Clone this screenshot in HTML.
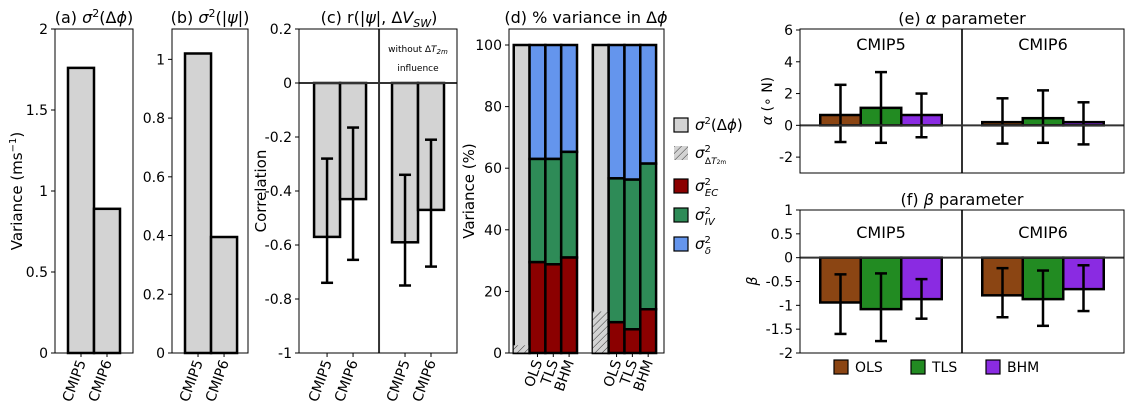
<!DOCTYPE html>
<html><head><meta charset="utf-8"><style>
html,body{margin:0;padding:0;background:#fff}
svg{display:block;font-family:"DejaVu Sans","Liberation Sans",sans-serif}
</style></head><body>
<svg id="fig" width="1131" height="413" viewBox="0 0 1131 413" xmlns="http://www.w3.org/2000/svg">
<defs><pattern id="hatch" patternUnits="userSpaceOnUse" width="5" height="5" patternTransform="rotate(45)"><rect width="5" height="5" fill="#d3d3d3"/><line x1="0" y1="0" x2="0" y2="5" stroke="#333" stroke-width="1"/></pattern></defs>
</svg>
<script>
const modelCats = ["CMIP5","CMIP6"];
const varPhi = [1.76, 0.89];
const varPsi = [1.02, 0.395];
const corrVals = [-0.57, -0.43, -0.59, -0.47];
const corrLo = [-0.74, -0.655, -0.75, -0.68];
const corrHi = [-0.28, -0.165, -0.34, -0.21];
const methodCats = ["OLS","TLS","BHM"];
const hatchVals = [2.5, 13.5];
const ecVals = [29.5, 28.8, 31.0, 10.0, 7.7, 14.2];
const ivVals = [33.5, 34.2, 34.3, 46.7, 48.6, 47.3];
const alphaVals = [0.65, 1.1, 0.65, 0.2, 0.45, 0.2];
const alphaLo = [-1.05, -1.1, -0.75, -1.15, -1.1, -1.2];
const alphaHi = [2.55, 3.35, 2.0, 1.7, 2.2, 1.45];
const betaVals = [-0.94, -1.08, -0.87, -0.79, -0.87, -0.66];
const betaLo = [-1.6, -1.75, -1.28, -1.25, -1.43, -1.12];
const betaHi = [-0.35, -0.33, -0.45, -0.22, -0.27, -0.16];
const ticksA = [0,0.5,1,1.5,2], ticksALab = ["0","0.5","1","1.5","2"];
const ticksB = [0,0.2,0.4,0.6,0.8,1], ticksBLab = ["0","0.2","0.4","0.6","0.8","1"];
const ticksC = [-1,-0.8,-0.6,-0.4,-0.2,0,0.2], ticksCLab = ["-1","-0.8","-0.6","-0.4","-0.2","0","0.2"];
const ticksD = [0,20,40,60,80,100], ticksDLab = ["0","20","40","60","80","100"];
const ticksE = [-2,0,2,4,6], ticksELab = ["-2","0","2","4","6"];
const ticksF = [-2,-1.5,-1,-0.5,0,0.5,1], ticksFLab = ["-2","-1.5","-1","-0.5","0","0.5","1"];
const methodColors = ["#8B4513","#228B22","#8A2BE2"];

const NS="http://www.w3.org/2000/svg";
const svg=document.getElementById('fig');
function el(tag,attrs,parent,text){const e=document.createElementNS(NS,tag);for(const k in attrs)e.setAttribute(k,attrs[k]);if(text!==undefined)e.textContent=text;(parent||svg).appendChild(e);return e;}
function scale(d0,d1,r0,r1){return v=>r0+(v-d0)/(d1-d0)*(r1-r0);}
function frame(x0,x1,y0,y1,name){const r=el('rect',{x:x0,y:y0,width:x1-x0,height:y1-y0,fill:'none',stroke:'#000','stroke-width':1});}
function yTicks(x0,ys,ticks,labs,name){const g=el('g',{});ticks.forEach((t,i)=>{el('line',{x1:x0-4,x2:x0,y1:ys(t),y2:ys(t),stroke:'#000'},g);el('text',{x:x0-7,y:ys(t)+5,'text-anchor':'end','font-size':14},g,labs[i]);});}
function xTicks(xs,y0,pos,labs,name){const g=el('g',{});pos.forEach((p,i)=>{const x=xs(p);el('line',{x1:x,x2:x,y1:y0,y2:y0+4,stroke:'#000'},g);el('text',{x:x+5,y:y0+9,'text-anchor':'end','font-size':14,transform:`rotate(-70 ${x+5} ${y0+9})`},g,labs[i]);});}
function title(x,y,html,name){const t=el('text',{x:x,y:y,'text-anchor':'middle','font-size':16});t.innerHTML=html;}
function ylabel(x,y,html,name,fs){const t=el('text',{x:x,y:y,'text-anchor':'middle','font-size':fs||15,transform:`rotate(-90 ${x} ${y})`});t.innerHTML=html;}
function bar(xs,ys,xc,w,v0,v1,fill,name){const a=ys(v0),b=ys(v1);const r=el('rect',{x:xs(xc-w/2),y:Math.min(a,b),width:xs(xc+w/2)-xs(xc-w/2),height:Math.abs(a-b),fill:fill,stroke:'#000','stroke-width':2.5});return r;}
function err(xs,ys,xc,lo,hi,name){const g=el('g',{stroke:'#000','stroke-width':2.5});const x=xs(xc);el('line',{x1:x,x2:x,y1:ys(lo),y2:ys(hi)},g);el('line',{x1:x-6,x2:x+6,y1:ys(lo),y2:ys(lo)},g);el('line',{x1:x-6,x2:x+6,y1:ys(hi),y2:ys(hi)},g);}
function hline(x0,x1,y,name){const l=el('line',{x1:x0,x2:x1,y1:y,y2:y,stroke:'#333','stroke-width':2});}
function vline(x,y0,y1,name){const l=el('line',{x1:x,x2:x,y1:y0,y2:y1,stroke:'#333','stroke-width':2});}

// Panel a
{const xs=scale(-0.5,2.5,55,133), ys=scale(0,2,353,29);
modelCats.forEach((c,i)=>bar(xs,ys,i+0.5,1,0,varPhi[i],'#d3d3d3','bar-a-'+c.toLowerCase()));
frame(55,133,29,353,'panel-a-axes');yTicks(55,ys,ticksA,ticksALab,'panel-a-y-ticks');
xTicks(xs,353,[0.5,1.5],modelCats,'panel-a-x-ticks');
title(94,23,'(a) <tspan font-style="italic">σ</tspan><tspan dy="-6" font-size="11">2</tspan><tspan dy="6">(Δ</tspan><tspan font-style="italic">ϕ</tspan>)','panel-a-title');
ylabel(22,191,'Variance (ms<tspan dy="-6" font-size="10">−1</tspan><tspan dy="6">)</tspan>','panel-a-y-title');}

// Panel b
{const xs=scale(-0.5,2.42,172,248), ys=scale(0,1.1,353,30);
modelCats.forEach((c,i)=>bar(xs,ys,i+0.5,1,0,varPsi[i],'#d3d3d3','bar-b-'+c.toLowerCase()));
frame(172,248,29,353,'panel-b-axes');yTicks(172,ys,ticksB,ticksBLab,'panel-b-y-ticks');
xTicks(xs,353,[0.5,1.5],modelCats,'panel-b-x-ticks');
title(210,23,'(b) <tspan font-style="italic">σ</tspan><tspan dy="-6" font-size="11">2</tspan><tspan dy="6">(|</tspan><tspan font-style="italic">ψ</tspan>|)','panel-b-title');}

// Panel c
{const xs=scale(-1.08,5.0,299,457), ys=scale(-1,0.2,353,29);
const pos=[0,1,3,4];
pos.forEach((p,i)=>bar(xs,ys,p,1,0,corrVals[i],'#d3d3d3','bar-c-'+i));
pos.forEach((p,i)=>err(xs,ys,p,corrLo[i],corrHi[i],'errorbar-c-'+i));
hline(299,457,ys(0),'panel-c-zero-line');vline(xs(2),29,353,'panel-c-divider');
frame(299,457,29,353,'panel-c-axes');yTicks(299,ys,ticksC,ticksCLab,'panel-c-y-ticks');
xTicks(xs,353,pos,[...modelCats,...modelCats],'panel-c-x-ticks');
title(379,23,'(c) r(|<tspan font-style="italic">ψ</tspan>|, Δ<tspan font-style="italic">V</tspan><tspan dy="4" font-size="11" font-style="italic">SW</tspan><tspan dy="-4">)</tspan>','panel-c-title');
const n1=el('text',{x:418,y:52,'text-anchor':'middle','font-size':9});n1.innerHTML='without Δ<tspan font-style="italic">T</tspan><tspan dy="2" font-size="7" font-style="italic">2m</tspan>';
const n2=el('text',{x:418,y:71,'text-anchor':'middle','font-size':9},svg,'influence');
ylabel(266,191,'Correlation','panel-c-y-title');}

// Panel d
{const xs=scale(-0.8,9,509,664), ys=scale(0,105,353,29.6);
[0,1].forEach(g=>{const x0=g*5;
 bar(xs,ys,x0,1,0,100,'#d3d3d3','bar-d-total-'+g);
 const h=bar(xs,ys,x0,1,0,hatchVals[g],'url(#hatch)','bar-d-hatch-'+g);h.setAttribute('stroke-width',0);
 methodCats.forEach((m,j)=>{const k=g*3+j, x=x0+1+j;
  bar(xs,ys,x,1,ecVals[k]+ivVals[k],100,'#6495ED','bar-d-delta-'+g+'-'+m.toLowerCase());
  bar(xs,ys,x,1,ecVals[k],ecVals[k]+ivVals[k],'#2E8B57','bar-d-iv-'+g+'-'+m.toLowerCase());
  bar(xs,ys,x,1,0,ecVals[k],'#8B0000','bar-d-ec-'+g+'-'+m.toLowerCase());});});
frame(509,664,29,353,'panel-d-axes');yTicks(509,ys,ticksD,ticksDLab,'panel-d-y-ticks');
xTicks(xs,353,[1,2,3,6,7,8],[...methodCats,...methodCats],'panel-d-x-ticks');
title(586,23,'(d) % variance in Δ<tspan font-style="italic">ϕ</tspan>','panel-d-title');
ylabel(474,191,'Variance (%)','panel-d-y-title');
const leg=[['#d3d3d3','<tspan font-style="italic">σ</tspan><tspan dy="-6" font-size="10">2</tspan><tspan dy="6">(Δ</tspan><tspan font-style="italic">ϕ</tspan>)'],['url(#hatch)','<tspan font-style="italic">σ</tspan><tspan dy="-6" font-size="10">2</tspan><tspan dx="-6" dy="12" font-size="9">Δ<tspan font-style="italic">T</tspan><tspan font-size="6">2m</tspan></tspan>'],['#8B0000','<tspan font-style="italic">σ</tspan><tspan dy="-6" font-size="10">2</tspan><tspan dx="-6" dy="11" font-size="10" font-style="italic">EC</tspan>'],['#2E8B57','<tspan font-style="italic">σ</tspan><tspan dy="-6" font-size="10">2</tspan><tspan dx="-6" dy="11" font-size="10" font-style="italic">IV</tspan>'],['#6495ED','<tspan font-style="italic">σ</tspan><tspan dy="-6" font-size="10">2</tspan><tspan dx="-6" dy="11" font-size="10" font-style="italic">δ</tspan>']];
const ly=[125,153,186,215,244];const names=['legend-total','legend-t2m','legend-ec','legend-iv','legend-delta'];
leg.forEach((l,i)=>{const g=el('g',{});
 el('rect',{x:674,y:ly[i]-7,width:14,height:14,fill:l[0],stroke:i==1?'none':'#000','stroke-width':1.2},g);
 const t=el('text',{x:695,y:ly[i]+5,'font-size':15},g);t.innerHTML=l[1];});}

// Panel e
{const xs=scale(-1,7,800,1124), ys=scale(-3,6,173,30);
const pos=[0,1,2,4,5,6];
pos.forEach((p,i)=>bar(xs,ys,p,1,0,alphaVals[i],methodColors[i%3],'bar-e-'+i));
pos.forEach((p,i)=>err(xs,ys,p,alphaLo[i],alphaHi[i],'errorbar-e-'+i));
hline(800,1124,ys(0),'panel-e-zero-line');vline(xs(3),29,173,'panel-e-divider');
frame(800,1124,29,173,'panel-e-axes');yTicks(800,ys,ticksE,ticksELab,'panel-e-y-ticks');
[['CMIP5',1],['CMIP6',5]].forEach(c=>{const t=el('text',{x:xs(c[1]),y:50,'text-anchor':'middle','font-size':16},svg,c[0]);});
title(962,24,'(e) <tspan font-style="italic">α</tspan> parameter','panel-e-title');
ylabel(772,101,'<tspan font-style="italic">α</tspan> (∘ N)','panel-e-y-title',14);}

// Panel f
{const xs=scale(-1,7,800,1124), ys=scale(-2,1,353,210);
const pos=[0,1,2,4,5,6];
pos.forEach((p,i)=>bar(xs,ys,p,1,0,betaVals[i],methodColors[i%3],'bar-f-'+i));
pos.forEach((p,i)=>err(xs,ys,p,betaLo[i],betaHi[i],'errorbar-f-'+i));
hline(800,1124,ys(0),'panel-f-zero-line');vline(xs(3),210,353,'panel-f-divider');
frame(800,1124,210,353,'panel-f-axes');yTicks(800,ys,ticksF,ticksFLab,'panel-f-y-ticks');
[['CMIP5',1],['CMIP6',5]].forEach(c=>{const t=el('text',{x:xs(c[1]),y:238,'text-anchor':'middle','font-size':16},svg,c[0]);});
title(962,205,'(f) <tspan font-style="italic">β</tspan> parameter','panel-f-title');
ylabel(757,281,'<tspan font-style="italic">β</tspan>','panel-f-y-title',14);
const lx=[834,911,986];
methodCats.forEach((m,i)=>{const g=el('g',{});
 el('rect',{x:lx[i],y:360,width:14,height:14,fill:methodColors[i],stroke:'#000','stroke-width':1.2},g);
 el('text',{x:lx[i]+21,y:372,'font-size':14},g,m);});}
</script>
</body></html>
